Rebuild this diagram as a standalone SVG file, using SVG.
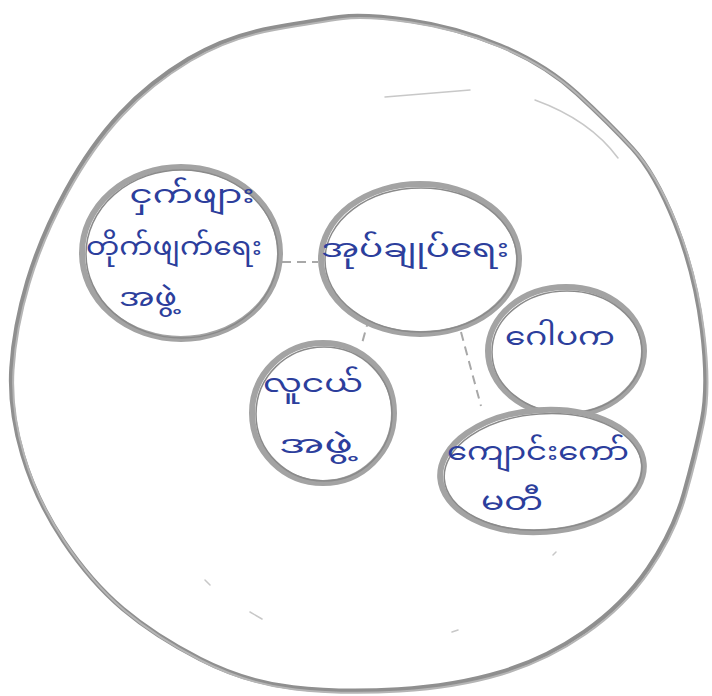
<svg xmlns="http://www.w3.org/2000/svg" width="712" height="696" viewBox="0 0 712 696">
<style>
.bg{fill:#ffffff}
.outer{fill:none;stroke:#8f8f8f;stroke-width:4.5;stroke-linejoin:round}
.outer2{fill:none;stroke:#b5b5b5;stroke-width:2}
.node{fill:#ffffff;stroke:#a3a3a3;stroke-width:6}
.node2{fill:none;stroke:#8a8a8a;stroke-width:1.5}
.conn{fill:none;stroke:#a8a8a8;stroke-width:2;stroke-dasharray:9 6}
.faint{fill:none;stroke:#c8c8c8;stroke-width:1.5;stroke-linecap:round}
.lbl{font-family:"Noto Sans Myanmar","Noto Sans","DejaVu Sans",sans-serif;fill:#2c3e9c;font-size:25px;text-anchor:middle}
</style>
<rect class="bg" x="0" y="0" width="712" height="696"/>
<g id="boundary">
<path class="outer" d="M 409.5,20.5 Q 455,27 500,45.5 Q 545,64 577,93.5 Q 609,123 632,148 Q 655,173 675,223 Q 695,273 702,329.5 Q 709,386 702,420.5 Q 695,455 684,493.5 Q 673,532 648,568.5 Q 623,605 584,632 Q 545,659 500,672.5 Q 455,686 398,689.5 Q 341,693 293,687.5 Q 245,682 200,659 Q 155,636 123,609 Q 91,582 63.5,541 Q 36,500 22.5,454.5 Q 9,409 11.5,368 Q 14,327 27.5,281.5 Q 41,236 66,190.5 Q 91,145 120.5,113.5 Q 150,82 188.5,59 Q 227,36 272.5,28 Q 318,20 341,17 Q 364,14 409.5,20.5 Z"/>
<path class="outer2" transform="translate(2,2)" d="M 409.5,20.5 Q 455,27 500,45.5 Q 545,64 577,93.5 Q 609,123 632,148 Q 655,173 675,223 Q 695,273 702,329.5 Q 709,386 702,420.5 Q 695,455 684,493.5 Q 673,532 648,568.5 Q 623,605 584,632 Q 545,659 500,672.5 Q 455,686 398,689.5 Q 341,693 293,687.5 Q 245,682 200,659 Q 155,636 123,609 Q 91,582 63.5,541 Q 36,500 22.5,454.5 Q 9,409 11.5,368 Q 14,327 27.5,281.5 Q 41,236 66,190.5 Q 91,145 120.5,113.5 Q 150,82 188.5,59 Q 227,36 272.5,28 Q 318,20 341,17 Q 364,14 409.5,20.5 Z"/>
<path class="faint" d="M 385,97 L 470,90"/>
<path class="faint" d="M 535,100 Q 590,120 618,158"/>
<path class="faint" d="M 205,580 L 210,585 M 250,612 L 262,619 M 452,632 L 458,630 M 553,555 L 556,552"/>
</g>
<g id="connectors">
<path class="conn" d="M 282,262 L 318,262"/>
<path class="conn" d="M 369,318 L 361,347"/>
<path class="conn" d="M 461,332 L 481,406"/>
</g>
<g id="node-malaria">
<ellipse class="node" cx="181" cy="253" rx="99" ry="86"/>
<ellipse class="node2" cx="182" cy="254" rx="96" ry="84"/>
<text class="lbl" x="192" y="203" textLength="125" lengthAdjust="spacingAndGlyphs">ငှက်ဖျား</text>
<text class="lbl" x="174" y="255" textLength="176" lengthAdjust="spacingAndGlyphs">တိုက်ဖျက်ရေး</text>
<text class="lbl" x="148" y="306" textLength="58" lengthAdjust="spacingAndGlyphs">အဖွဲ့</text>
</g>
<g id="node-admin">
<ellipse class="node" cx="420" cy="259" rx="99" ry="75"/>
<ellipse class="node2" cx="421" cy="260" rx="96" ry="72"/>
<text class="lbl" x="415" y="257" textLength="188" lengthAdjust="spacingAndGlyphs">အုပ်ချုပ်ရေး</text>
</g>
<g id="node-gawpaka">
<ellipse class="node" cx="566" cy="351" rx="78" ry="64"/>
<ellipse class="node2" cx="567" cy="352" rx="75" ry="61"/>
<text class="lbl" x="560" y="345" textLength="110" lengthAdjust="spacingAndGlyphs">ဂေါပက</text>
</g>
<g id="node-youth">
<ellipse class="node" cx="323" cy="413" rx="71" ry="70"/>
<ellipse class="node2" cx="324" cy="414" rx="68" ry="67"/>
<text class="lbl" x="313" y="392" textLength="100" lengthAdjust="spacingAndGlyphs">လူငယ်</text>
<text class="lbl" x="316" y="453" textLength="74" lengthAdjust="spacingAndGlyphs">အဖွဲ့</text>
</g>
<g id="node-school">
<ellipse class="node" cx="542" cy="471" rx="102" ry="61" transform="rotate(-4 542 471)"/>
<ellipse class="node2" cx="543" cy="472" rx="99" ry="58" transform="rotate(-4 542 471)"/>
<text class="lbl" x="538" y="460" textLength="182" lengthAdjust="spacingAndGlyphs">ကျောင်းကော်</text>
<text class="lbl" x="512" y="510" textLength="62" lengthAdjust="spacingAndGlyphs">မတီ</text>
</g>
</svg>
